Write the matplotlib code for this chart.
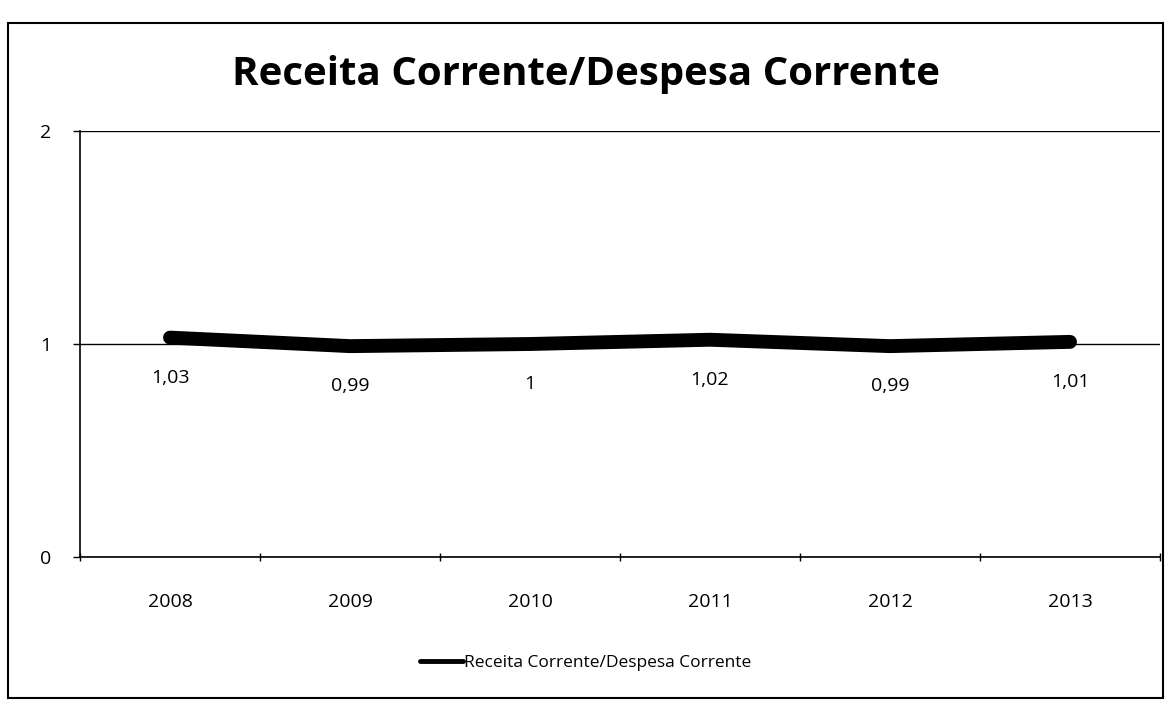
import matplotlib
matplotlib.use("Agg")
import matplotlib.pyplot as plt
from matplotlib.patches import Rectangle

years = ["2008", "2009", "2010", "2011", "2012", "2013"]
values = [1.03, 0.99, 1.00, 1.02, 0.99, 1.01]
labels = ["1,03", "0,99", "1", "1,02", "0,99", "1,01"]
series_name = "Receita Corrente/Despesa Corrente"
title = "Receita Corrente/Despesa Corrente"
yticks = [0, 1, 2]

W, H = 1171, 704
fig = plt.figure(figsize=(W / 100, H / 100), dpi=100)
fig.patch.set_facecolor("white")

# outer chart border
fig.patches.append(Rectangle((8 / W, 1 - 698 / H), (1163 - 8) / W, (698 - 23) / H,
                             transform=fig.transFigure, fill=False, edgecolor="black",
                             linewidth=1.5))

left, right, top, bottom = 80, 1160, 131, 557
ax = fig.add_axes([left / W, 1 - bottom / H, (right - left) / W, (bottom - top) / H])

x = [i + 0.5 for i in range(len(years))]
ax.plot(x, values, color="black", linewidth=10, solid_capstyle="round", label=series_name)
for xi, v, lab in zip(x, values, labels):
    ax.annotate(lab, (xi, v), xytext=(0, -29), textcoords="offset points",
                ha="center", va="center", fontsize=14, family="Open Sans")

ax.set_xlim(0, len(years))
ax.set_ylim(0, 2)
ax.set_yticks(yticks)
ax.set_yticklabels([str(t) for t in yticks], fontsize=14, family="Open Sans")
ax.set_xticks(range(len(years) + 1))
ax.set_xticklabels([])
ax.set_xticks(x, minor=True)
ax.set_xticklabels(years, minor=True, fontsize=14, family="Open Sans")
ax.tick_params(axis="x", which="minor", length=0, pad=26)
ax.tick_params(axis="x", which="major", length=6, direction="inout", width=1)
ax.tick_params(axis="y", length=5, direction="out", width=1, pad=16)
ax.grid(axis="y", color="black", linewidth=1)
ax.set_axisbelow(True)
for s in ["top", "right"]:
    ax.spines[s].set_visible(False)
ax.spines["left"].set_linewidth(1.2)
ax.spines["bottom"].set_linewidth(1.2)

fig.text(0.5, 1 - 75 / H, title, ha="center", va="center", fontsize=29,
         fontweight="bold", family="Open Sans")

leg = fig.legend(loc="center", bbox_to_anchor=(0.5, 1 - 663 / H), frameon=False,
                 prop={"family": "Open Sans", "size": 12.5}, handlelength=2.5,
                 handletextpad=0.05)
for l in leg.get_lines():
    l.set_linewidth(3.5)

fig.savefig("out.png", dpi=100, facecolor="white")
